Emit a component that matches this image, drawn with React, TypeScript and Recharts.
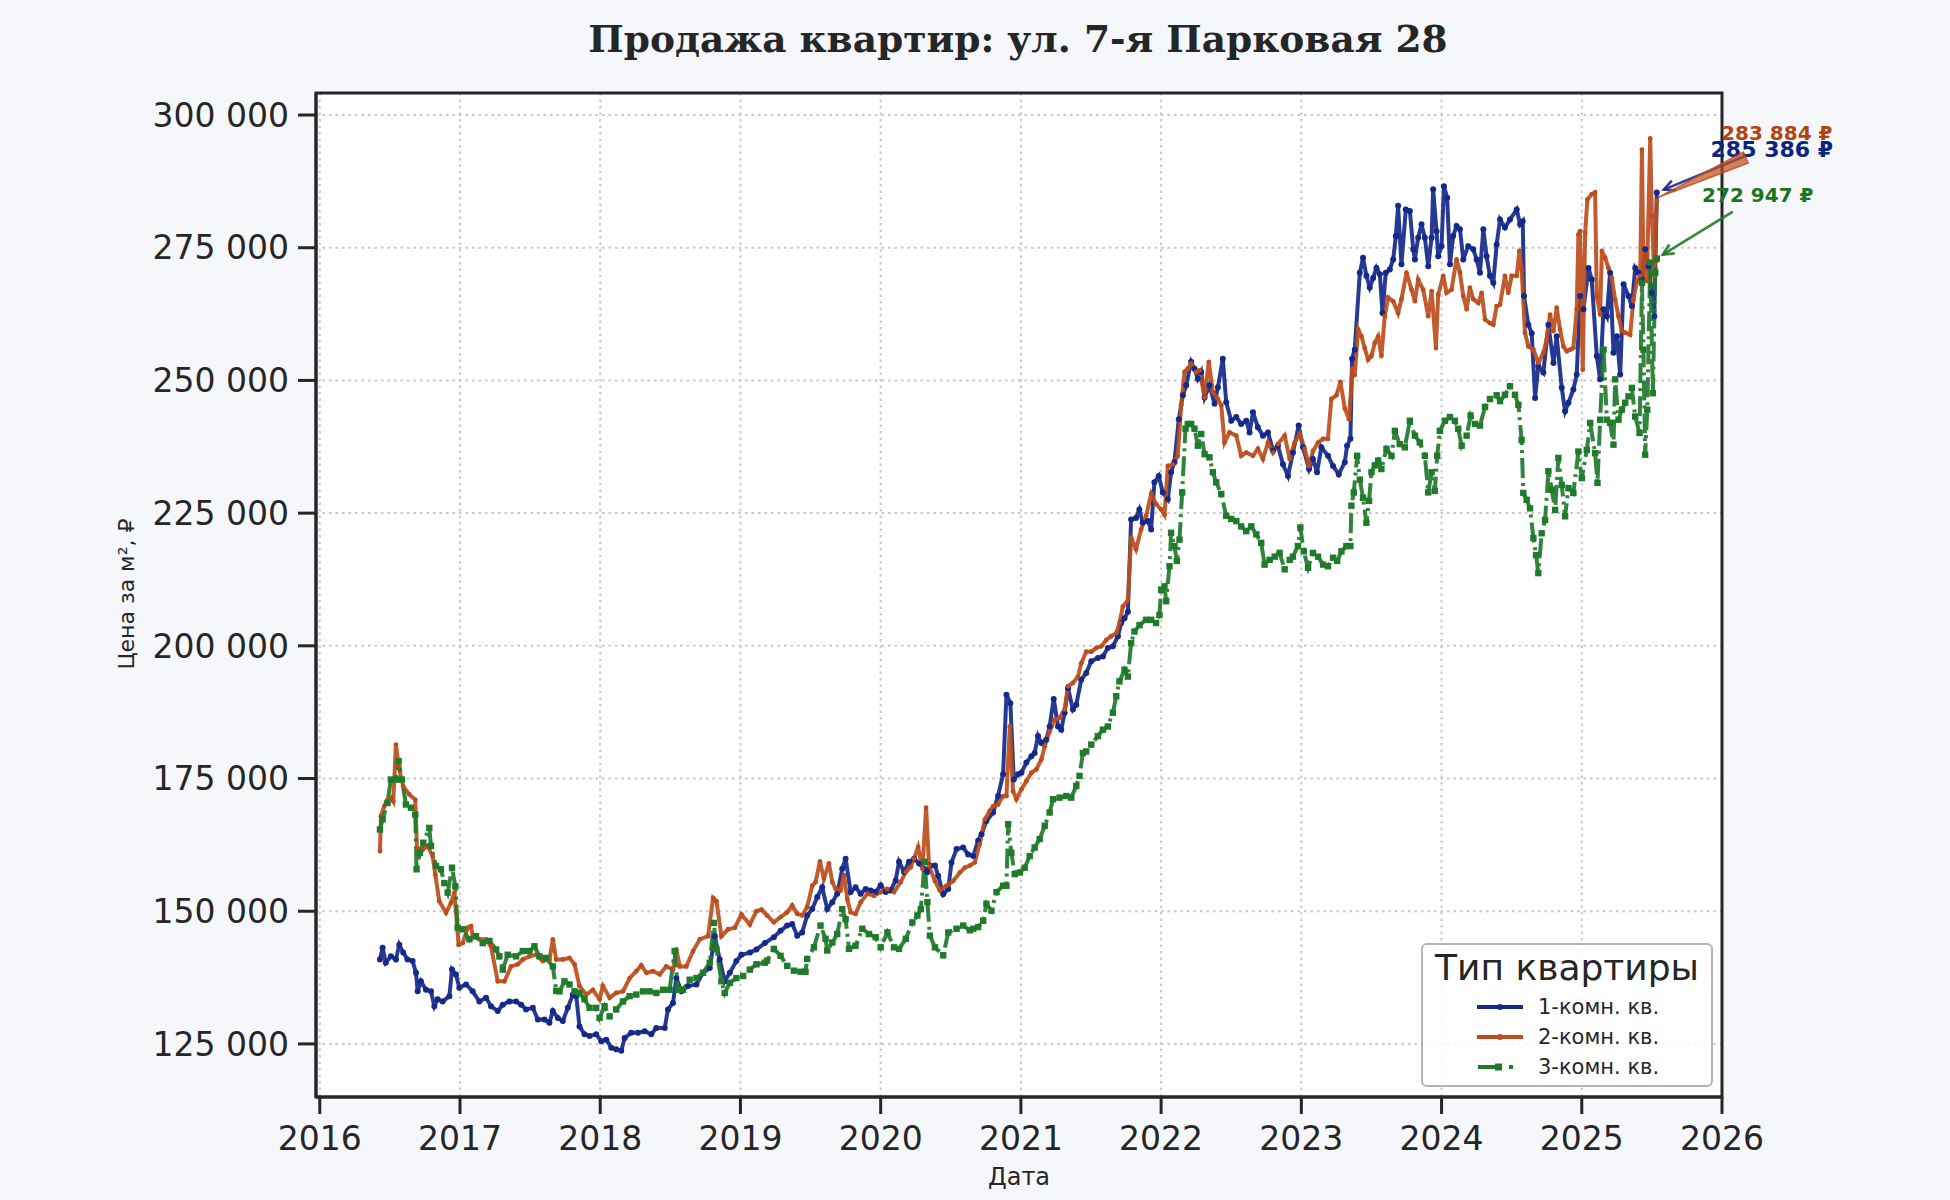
import React from "react";
import {
  LineChart,
  Line,
  XAxis,
  YAxis,
  CartesianGrid,
  ReferenceArea,
  ReferenceDot,
  Legend,
} from "recharts";

const INK = "#262626";
const FONT = "'DejaVu Sans', sans-serif";

const yearTicks = [2016, 2017, 2018, 2019, 2020, 2021, 2022, 2023, 2024, 2025, 2026];
const priceTicks = [125000, 150000, 175000, 200000, 225000, 250000, 275000, 300000];

// 1-комн. кв. — decimal year / price per m²
const oneRoomDates = [
  2016.429, 2016.448, 2016.471, 2016.507, 2016.543, 2016.567, 2016.595, 2016.626, 2016.662, 2016.686,
  2016.698, 2016.721, 2016.757, 2016.793, 2016.817, 2016.84, 2016.876, 2016.924, 2016.943, 2016.971,
  2016.995, 2017.043, 2017.09, 2017.138, 2017.186, 2017.221, 2017.269, 2017.305, 2017.352, 2017.4,
  2017.436, 2017.471, 2017.519, 2017.555, 2017.602, 2017.638, 2017.662, 2017.698, 2017.733, 2017.769,
  2017.805, 2017.829, 2017.852, 2017.888, 2017.924, 2017.971, 2018.007, 2018.043, 2018.079, 2018.114,
  2018.15, 2018.174, 2018.221, 2018.269, 2018.317, 2018.364, 2018.4, 2018.46, 2018.483, 2018.519,
  2018.543, 2018.579, 2018.626, 2018.686, 2018.733, 2018.781, 2018.817, 2018.852, 2018.888, 2018.924,
  2018.971, 2019.007, 2019.067, 2019.114, 2019.174, 2019.238, 2019.286, 2019.333, 2019.369, 2019.405,
  2019.44, 2019.476, 2019.512, 2019.548, 2019.583, 2019.619, 2019.655, 2019.69, 2019.726, 2019.75,
  2019.786, 2019.821, 2019.857, 2019.893, 2019.929, 2019.964, 2020.0, 2020.036, 2020.071, 2020.107,
  2020.131, 2020.167, 2020.202, 2020.238, 2020.274, 2020.31, 2020.333, 2020.351, 2020.387, 2020.41,
  2020.446, 2020.482, 2020.505, 2020.541, 2020.588, 2020.624, 2020.66, 2020.695, 2020.719, 2020.754,
  2020.802, 2020.837, 2020.873, 2020.897, 2020.925, 2020.949, 2020.98, 2021.004, 2021.039, 2021.075,
  2021.098, 2021.122, 2021.146, 2021.181, 2021.205, 2021.234, 2021.265, 2021.288, 2021.312, 2021.336,
  2021.371, 2021.395, 2021.43, 2021.466, 2021.502, 2021.549, 2021.585, 2021.62, 2021.656, 2021.692,
  2021.715, 2021.739, 2021.763, 2021.786, 2021.821, 2021.845, 2021.869, 2021.905, 2021.929, 2021.952,
  2021.983, 2022.012, 2022.048, 2022.071, 2022.095, 2022.126, 2022.155, 2022.179, 2022.214, 2022.238,
  2022.262, 2022.286, 2022.31, 2022.345, 2022.381, 2022.405, 2022.44, 2022.464, 2022.5, 2022.536,
  2022.571, 2022.607, 2022.631, 2022.655, 2022.69, 2022.726, 2022.762, 2022.798, 2022.833, 2022.869,
  2022.905, 2022.94, 2022.981, 2023.012, 2023.055, 2023.083, 2023.112, 2023.143, 2023.19, 2023.226,
  2023.267, 2023.31, 2023.326, 2023.35, 2023.362, 2023.381, 2023.417, 2023.44, 2023.464, 2023.488,
  2023.512, 2023.536, 2023.56, 2023.579, 2023.602, 2023.631, 2023.655, 2023.674, 2023.69, 2023.714,
  2023.745, 2023.774, 2023.798, 2023.81, 2023.833, 2023.857, 2023.881, 2023.905, 2023.929, 2023.94,
  2023.964, 2023.976, 2024.0, 2024.017, 2024.04, 2024.06, 2024.083, 2024.107, 2024.131, 2024.155,
  2024.19, 2024.226, 2024.25, 2024.274, 2024.298, 2024.321, 2024.345, 2024.369, 2024.393, 2024.417,
  2024.452, 2024.488, 2024.536, 2024.56, 2024.579, 2024.588, 2024.619, 2024.643, 2024.667, 2024.69,
  2024.726, 2024.762, 2024.798, 2024.821, 2024.857, 2024.881, 2024.905, 2024.94, 2024.964, 2024.988,
  2025.012, 2025.048, 2025.071, 2025.107, 2025.131, 2025.155, 2025.179, 2025.202, 2025.226, 2025.25,
  2025.274, 2025.298, 2025.333, 2025.357, 2025.381, 2025.405, 2025.429, 2025.452, 2025.476, 2025.5,
  2025.517, 2025.535,
];
const oneRoomPrices = [
  140900, 143100, 140300, 141500, 140900, 143700, 142200, 140900, 140600, 138400,
  134900, 136800, 135200, 134900, 132100, 133400, 133000, 134000, 139000, 138100,
  135600, 136200, 134900, 133000, 133700, 132100, 131200, 132400, 133000, 133000,
  132400, 131500, 131800, 129600, 129600, 129000, 131200, 129900, 129300, 131800,
  134300, 134000, 128300, 126800, 126500, 126800, 125500, 125800, 124300, 124000,
  123700, 126100, 127100, 127100, 127400, 126800, 128000, 128000, 131500, 132700,
  137400, 134900, 135900, 136200, 138400, 139300, 145300, 140900, 136800, 138400,
  140600, 141800, 142200, 142800, 144000, 145100, 146300, 147300, 147600, 145400,
  146000, 149200, 150400, 152700, 154500, 150400, 151700, 153300, 158000, 159900,
  153600, 154500, 153300, 154200, 153900, 153600, 154900, 153600, 153900, 155800,
  159300, 157400, 159300, 159900, 159000, 158000, 157400, 158600, 158600, 156700,
  153200, 154200, 159200, 161700, 162000, 160700, 160400, 163300, 164500, 167000,
  168600, 171700, 175800, 190800, 189200, 174800, 175800, 176100, 178000, 179200,
  179800, 183000, 181700, 182300, 184800, 190000, 184800, 184200, 187400, 192000,
  188000, 188900, 193600, 194900, 197100, 197700, 198000, 199600, 199900, 201800,
  204300, 205200, 206400, 223800, 224100, 225700, 223200, 223500, 221900, 230800,
  232000, 228900, 227600, 232700, 234600, 242700, 247200, 249100, 253500, 252200,
  250300, 251600, 246800, 249100, 245600, 248700, 254100, 245900, 242400, 243100,
  241800, 242400, 240200, 244000, 241200, 239600, 240200, 236800, 237700, 234200,
  232000, 236400, 241500, 237400, 233300, 235200, 232700, 237400, 235800, 233900,
  232300, 234600, 237700, 239000, 254100, 255800, 270300, 273100, 269700, 267500,
  269300, 271200, 270000, 262700, 270300, 270900, 272800, 277200, 282900, 271900,
  282200, 281900, 274700, 272800, 276900, 279400, 276900, 271500, 276900, 286000,
  278100, 273400, 275300, 286600, 284400, 271900, 277200, 279100, 278500, 272800,
  275300, 274700, 272800, 270300, 278500, 273400, 269700, 268400, 275600, 280300,
  278800, 280300, 282200, 279400, 280000, 265900, 260500, 258900, 246700, 252700,
  251500, 260500, 253300, 258300, 248600, 244200, 245800, 248300, 251100, 265900,
  263400, 271200, 269000, 254600, 250200, 263400, 262100, 270300, 255200, 258300,
  251100, 268100, 265900, 264000, 271200, 270300, 269000, 274700, 271500, 266500,
  262100, 285386,
];

// 2-комн. кв.
const twoRoomDates = [
  2016.429, 2016.436, 2016.46, 2016.483, 2016.507, 2016.524, 2016.543, 2016.562, 2016.595, 2016.638,
  2016.681, 2016.693, 2016.733, 2016.769, 2016.805, 2016.824, 2016.852, 2016.9, 2016.936, 2016.96,
  2016.99, 2017.019, 2017.055, 2017.079, 2017.09, 2017.138, 2017.186, 2017.221, 2017.269, 2017.317,
  2017.364, 2017.412, 2017.448, 2017.495, 2017.543, 2017.59, 2017.638, 2017.662, 2017.686, 2017.733,
  2017.781, 2017.817, 2017.852, 2017.9, 2017.948, 2017.995, 2018.019, 2018.067, 2018.114, 2018.162,
  2018.21, 2018.257, 2018.293, 2018.329, 2018.376, 2018.424, 2018.471, 2018.519, 2018.543, 2018.567,
  2018.614, 2018.662, 2018.71, 2018.769, 2018.805, 2018.829, 2018.864, 2018.912, 2018.96, 2019.007,
  2019.067, 2019.114, 2019.15, 2019.19, 2019.238, 2019.286, 2019.333, 2019.369, 2019.405, 2019.44,
  2019.476, 2019.512, 2019.536, 2019.567, 2019.595, 2019.631, 2019.655, 2019.679, 2019.714, 2019.738,
  2019.762, 2019.786, 2019.821, 2019.857, 2019.905, 2019.952, 2020.0, 2020.048, 2020.095, 2020.143,
  2020.179, 2020.214, 2020.238, 2020.267, 2020.298, 2020.324, 2020.345, 2020.387, 2020.422, 2020.47,
  2020.517, 2020.565, 2020.6, 2020.636, 2020.671, 2020.707, 2020.743, 2020.778, 2020.802, 2020.837,
  2020.873, 2020.897, 2020.921, 2020.944, 2020.968, 2021.004, 2021.039, 2021.075, 2021.11, 2021.146,
  2021.17, 2021.205, 2021.241, 2021.276, 2021.312, 2021.336, 2021.371, 2021.407, 2021.43, 2021.466,
  2021.502, 2021.537, 2021.573, 2021.609, 2021.644, 2021.68, 2021.703, 2021.727, 2021.763, 2021.786,
  2021.821, 2021.857, 2021.893, 2021.929, 2021.964, 2022.0, 2022.024, 2022.048, 2022.083, 2022.119,
  2022.143, 2022.167, 2022.19, 2022.214, 2022.25, 2022.274, 2022.31, 2022.34, 2022.369, 2022.405,
  2022.429, 2022.452, 2022.488, 2022.536, 2022.571, 2022.607, 2022.655, 2022.69, 2022.726, 2022.762,
  2022.798, 2022.833, 2022.881, 2022.917, 2022.952, 2022.988, 2023.024, 2023.055, 2023.083, 2023.119,
  2023.155, 2023.19, 2023.214, 2023.25, 2023.279, 2023.31, 2023.34, 2023.364, 2023.381, 2023.405,
  2023.429, 2023.452, 2023.476, 2023.5, 2023.524, 2023.548, 2023.571, 2023.595, 2023.619, 2023.655,
  2023.69, 2023.714, 2023.75, 2023.786, 2023.81, 2023.833, 2023.869, 2023.905, 2023.929, 2023.96,
  2023.976, 2024.012, 2024.036, 2024.071, 2024.107, 2024.131, 2024.155, 2024.179, 2024.202, 2024.226,
  2024.262, 2024.286, 2024.31, 2024.345, 2024.369, 2024.393, 2024.417, 2024.452, 2024.476, 2024.5,
  2024.536, 2024.555, 2024.571, 2024.595, 2024.619, 2024.655, 2024.69, 2024.726, 2024.75, 2024.774,
  2024.798, 2024.821, 2024.845, 2024.869, 2024.893, 2024.917, 2024.94, 2024.964, 2024.976, 2024.988,
  2025.007, 2025.024, 2025.04, 2025.071, 2025.095, 2025.107, 2025.131, 2025.143, 2025.167, 2025.19,
  2025.214, 2025.238, 2025.262, 2025.286, 2025.31, 2025.345, 2025.369, 2025.393, 2025.417, 2025.429,
  2025.44, 2025.464, 2025.488, 2025.5, 2025.517, 2025.535,
];
const twoRoomPrices = [
  161300, 167900, 169800, 171000, 171400, 170700, 181400, 177300, 173500, 172000,
  171000, 161900, 161600, 162300, 160400, 156900, 151900, 149700, 151600, 153500,
  143700, 144000, 146900, 147200, 145300, 144700, 144700, 143400, 136800, 136800,
  139600, 140000, 140900, 141500, 141800, 140600, 140900, 144700, 140900, 140900,
  141200, 140000, 135900, 134300, 135200, 133400, 135900, 133700, 134600, 134900,
  137400, 138700, 139800, 138400, 138700, 138100, 139600, 139000, 142800, 139600,
  139600, 142500, 144700, 145300, 152500, 151900, 145300, 146600, 146900, 149400,
  147500, 150000, 150300, 149200, 147900, 148900, 149800, 151100, 149500, 149200,
  150800, 154800, 155500, 159400, 156100, 159000, 155500, 154200, 153900, 156800,
  152300, 149800, 149500, 151700, 153300, 152900, 153600, 154200, 153600, 155500,
  157400, 158300, 159900, 162100, 158000, 169500, 158600, 155700, 153900, 154800,
  155700, 157300, 158200, 158600, 159200, 162700, 167300, 168900, 169800, 170100,
  171700, 171700, 184800, 172600, 171100, 173000, 174500, 176100, 176700, 178600,
  181100, 183900, 186100, 186400, 188000, 192400, 193000, 194200, 196700, 198900,
  198900, 199600, 199900, 201100, 201800, 202400, 204300, 207400, 208600, 220400,
  218200, 221900, 224500, 228600, 226700, 225700, 224700, 233900, 234200, 235800,
  245300, 251600, 252200, 253200, 251600, 251900, 246800, 253500, 247800, 246500,
  245300, 238300, 240200, 239600, 235800, 236400, 235800, 237100, 235200, 238300,
  236400, 238000, 239600, 235200, 238300, 239900, 237100, 233900, 236700, 238300,
  239000, 239000, 246500, 247200, 249700, 244700, 242700, 252200, 251000, 259600,
  258300, 256100, 253900, 254600, 257100, 258300, 254600, 262100, 265600, 264900,
  262700, 265300, 270300, 267100, 264900, 269000, 267100, 262100, 266800, 256100,
  266200, 269700, 266500, 267100, 272800, 270300, 265900, 263400, 267500, 265300,
  264600, 266500, 261500, 260800, 260500, 264000, 264300, 269700, 266500, 269700,
  269700, 274400, 270900, 259000, 256400, 255800, 253300, 255200, 257700, 262400,
  259300, 263700, 259600, 256400, 255500, 255800, 256100, 263400, 277500, 278100,
  252000, 277800, 284100, 285100, 285400, 265900, 262400, 274400, 273100, 271200,
  269300, 265200, 262100, 259300, 259000, 258600, 265300, 268700, 269700, 293500,
  270900, 268700, 295600, 281000, 269700, 283884,
];

// 3-комн. кв.
const threeRoomDates = [
  2016.429, 2016.448, 2016.483, 2016.507, 2016.543, 2016.562, 2016.586, 2016.614, 2016.65, 2016.681,
  2016.69, 2016.714, 2016.738, 2016.781, 2016.793, 2016.829, 2016.864, 2016.888, 2016.912, 2016.943,
  2016.967, 2016.983, 2017.019, 2017.067, 2017.114, 2017.162, 2017.21, 2017.257, 2017.281, 2017.305,
  2017.34, 2017.4, 2017.448, 2017.495, 2017.531, 2017.567, 2017.614, 2017.662, 2017.686, 2017.71,
  2017.745, 2017.781, 2017.817, 2017.852, 2017.888, 2017.924, 2017.971, 2017.995, 2018.031, 2018.067,
  2018.114, 2018.162, 2018.21, 2018.257, 2018.305, 2018.352, 2018.4, 2018.448, 2018.495, 2018.531,
  2018.555, 2018.59, 2018.638, 2018.686, 2018.733, 2018.781, 2018.81, 2018.829, 2018.864, 2018.888,
  2018.924, 2018.971, 2019.019, 2019.067, 2019.114, 2019.174, 2019.19, 2019.238, 2019.286, 2019.333,
  2019.381, 2019.429, 2019.464, 2019.476, 2019.524, 2019.571, 2019.607, 2019.619, 2019.655, 2019.69,
  2019.726, 2019.75, 2019.774, 2019.821, 2019.869, 2019.917, 2019.964, 2020.0, 2020.048, 2020.095,
  2020.131, 2020.179, 2020.226, 2020.262, 2020.286, 2020.314, 2020.333, 2020.351, 2020.387, 2020.446,
  2020.482, 2020.541, 2020.588, 2020.636, 2020.66, 2020.695, 2020.731, 2020.754, 2020.79, 2020.826,
  2020.873, 2020.897, 2020.909, 2020.932, 2020.956, 2020.992, 2021.027, 2021.063, 2021.098, 2021.134,
  2021.17, 2021.205, 2021.229, 2021.276, 2021.324, 2021.359, 2021.395, 2021.418, 2021.442, 2021.466,
  2021.502, 2021.549, 2021.585, 2021.62, 2021.656, 2021.68, 2021.703, 2021.739, 2021.763, 2021.786,
  2021.81, 2021.846, 2021.893, 2021.929, 2021.964, 2021.988, 2022.0, 2022.024, 2022.036, 2022.06,
  2022.071, 2022.095, 2022.112, 2022.131, 2022.15, 2022.174, 2022.19, 2022.214, 2022.238, 2022.262,
  2022.286, 2022.31, 2022.345, 2022.369, 2022.393, 2022.429, 2022.464, 2022.5, 2022.536, 2022.571,
  2022.607, 2022.643, 2022.679, 2022.714, 2022.738, 2022.774, 2022.81, 2022.845, 2022.881, 2022.917,
  2022.94, 2022.976, 2022.993, 2023.017, 2023.048, 2023.083, 2023.119, 2023.155, 2023.19, 2023.226,
  2023.255, 2023.286, 2023.321, 2023.35, 2023.357, 2023.374, 2023.398, 2023.417, 2023.44, 2023.464,
  2023.483, 2023.5, 2023.524, 2023.548, 2023.571, 2023.607, 2023.643, 2023.667, 2023.702, 2023.738,
  2023.774, 2023.81, 2023.845, 2023.881, 2023.905, 2023.929, 2023.952, 2023.969, 2023.988, 2024.024,
  2024.06, 2024.095, 2024.119, 2024.143, 2024.179, 2024.207, 2024.238, 2024.274, 2024.31, 2024.345,
  2024.393, 2024.417, 2024.452, 2024.488, 2024.524, 2024.548, 2024.571, 2024.583, 2024.607, 2024.631,
  2024.655, 2024.674, 2024.69, 2024.714, 2024.738, 2024.762, 2024.786, 2024.81, 2024.833, 2024.857,
  2024.881, 2024.905, 2024.94, 2024.976, 2025.0, 2025.036, 2025.06, 2025.095, 2025.112, 2025.131,
  2025.155, 2025.179, 2025.202, 2025.226, 2025.238, 2025.262, 2025.286, 2025.31, 2025.333, 2025.357,
  2025.381, 2025.412, 2025.429, 2025.44, 2025.452, 2025.467, 2025.488, 2025.507, 2025.524, 2025.535,
];
const threeRoomPrices = [
  165400, 167300, 170400, 174800, 174800, 178300, 174800, 170100, 169500, 168200,
  157900, 161000, 162900, 165700, 162300, 158500, 157900, 155300, 153500, 158200,
  154700, 146900, 146600, 144700, 145300, 144000, 144400, 142800, 141500, 139000,
  141800, 141500, 142500, 142500, 143400, 141500, 141200, 139600, 135000, 134900,
  136800, 136200, 134900, 134600, 133400, 131800, 131800, 129900, 132100, 130200,
  131500, 133000, 134000, 134300, 134900, 134900, 134600, 135200, 135200, 142500,
  135200, 135200, 137100, 137400, 138400, 140300, 147800, 142800, 136800, 134600,
  136500, 137400, 137800, 139000, 140000, 140300, 140700, 142900, 141600, 139700,
  138800, 138600, 138600, 141000, 143200, 147300, 144800, 142600, 144100, 145700,
  150400, 148500, 142900, 143500, 146700, 145700, 145100, 143200, 146000, 143200,
  142900, 144800, 147900, 149200, 150400, 159300, 151700, 145400, 143200, 141700,
  146000, 146700, 147300, 146400, 146700, 147000, 148200, 151400, 150100, 153600,
  154800, 154800, 166400, 161000, 157000, 157300, 158200, 160400, 162000, 163600,
  166100, 168600, 171100, 171400, 171700, 171400, 173600, 175500, 179800, 180100,
  181400, 183000, 184200, 184800, 187400, 190500, 193300, 195500, 194200, 200500,
  202700, 203900, 204900, 204900, 204300, 205800, 210600, 211200, 208400, 215000,
  221300, 218800, 216000, 220000, 228900, 240900, 241800, 241800, 240900, 237700,
  239900, 236100, 235500, 232700, 230800, 228600, 224500, 223900, 223500, 222500,
  221600, 222500, 221000, 219400, 215300, 216200, 216800, 217500, 214400, 216200,
  216800, 218800, 222300, 217800, 214700, 217500, 216800, 215300, 215000, 216600,
  216000, 217800, 218800, 218800, 226400, 228900, 235800, 231300, 227900, 223200,
  227300, 232700, 234000, 234900, 233300, 237100, 235800, 240500, 238000, 237400,
  242400, 239600, 238300, 235800, 228900, 232700, 229200, 235800, 240500, 242400,
  243100, 242400, 240900, 237700, 239600, 243400, 241800, 241500, 245000, 246500,
  247200, 246100, 247300, 248900, 247300, 245400, 238800, 228800, 227500, 225900,
  220300, 217100, 213700, 221200, 223700, 232900, 229400, 225600, 235400, 230300,
  224400, 229700, 228800, 236600, 231600, 236900, 242000, 236300, 230700, 242600,
  255800, 242600, 242000, 237900, 250200, 242600, 244500, 245800, 247000, 248600,
  243200, 240100, 268400, 255800, 236000, 244500, 272200, 247600, 270300, 272947,
];

const toRows = (dates: number[], prices: number[]) => dates.map((t, i) => ({ t, v: prices[i] }));

const fmt = (v: number) => String(Math.round(v)).replace(/\B(?=(\d{3})+(?!\d))/g, " ");

type Marker = "dot" | "square";

const SERIES = [
  {
    id: "one",
    name: "1-комн. кв.",
    color: "#15298a",
    textColor: "#0c2480",
    dates: oneRoomDates,
    prices: oneRoomPrices,
    marker: "dot" as Marker,
    dash: undefined as string | undefined,
    legendDash: undefined as string | undefined,
    r: 3,
    callout: { tx: 115, ty: -43, sx: 92, sy: -38, ex: 7, ey: -3, size: 22, wedge: false },
  },
  {
    id: "two",
    name: "2-комн. кв.",
    color: "#bd4d1c",
    textColor: "#b5430f",
    dates: twoRoomDates,
    prices: twoRoomPrices,
    marker: "dot" as Marker,
    dash: undefined as string | undefined,
    legendDash: undefined as string | undefined,
    r: 2.4,
    callout: { tx: 120, ty: -68, sx: 89, sy: -43, ex: 1, ey: -3, size: 20, wedge: true },
  },
  {
    id: "three",
    name: "3-комн. кв.",
    color: "#1f7a2a",
    textColor: "#1a751c",
    dates: threeRoomDates,
    prices: threeRoomPrices,
    marker: "square" as Marker,
    dash: "20 5 3 5",
    legendDash: "22 9 4 9",
    r: 3.2,
    callout: { tx: 101, ty: -64, sx: 76, sy: -47, ex: 6, ey: -4, size: 20, wedge: false },
  },
];

function Callout({ cx, cy, s }: { cx: number; cy: number; s: (typeof SERIES)[number] }) {
  const c = s.callout;
  const x1 = cx + c.sx, y1 = cy + c.sy, x2 = cx + c.ex, y2 = cy + c.ey;
  const ang = Math.atan2(y2 - y1, x2 - x1);
  const head = 12;
  const spread = 0.45;
  const hx1 = x2 - head * Math.cos(ang - spread), hy1 = y2 - head * Math.sin(ang - spread);
  const hx2 = x2 - head * Math.cos(ang + spread), hy2 = y2 - head * Math.sin(ang + spread);
  const last = s.prices[s.prices.length - 1];
  let arrow;
  if (c.wedge) {
    const nx = -Math.sin(ang) * 6, ny = Math.cos(ang) * 6;
    arrow = (
      <polygon
        points={`${x1 + nx},${y1 + ny} ${x1 - nx},${y1 - ny} ${x2},${y2}`}
        fill={s.color}
        fillOpacity={0.7}
        stroke={s.color}
        strokeOpacity={0.8}
        strokeWidth={1.5}
      />
    );
  } else {
    arrow = (
      <g stroke={s.color} strokeWidth={2.6} fill="none" strokeOpacity={0.9}>
        <line x1={x1} y1={y1} x2={x2} y2={y2} />
        <polyline points={`${hx1},${hy1} ${x2},${y2} ${hx2},${hy2}`} />
      </g>
    );
  }
  return (
    <g>
      {arrow}
      <text
        x={cx + c.tx}
        y={cy + c.ty}
        textAnchor="middle"
        dominantBaseline="central"
        fontFamily={FONT}
        fontWeight="bold"
        fontSize={c.size}
        fill={s.textColor}
      >
        {fmt(last)} ₽
      </text>
    </g>
  );
}

function LegendIcon({ s }: { s: (typeof SERIES)[number] }) {
  return (
    <svg width={46} height={14} style={{ position: "absolute", left: 54, top: -7 }}>
      <line
        x1={1}
        y1={7}
        x2={45}
        y2={7}
        stroke={s.color}
        strokeWidth={4}
        strokeLinecap={s.legendDash ? "butt" : "round"}
        strokeDasharray={s.legendDash}
      />
      {s.marker === "square" ? (
        <rect x={18} y={3.5} width={7} height={7} fill={s.color} />
      ) : (
        <circle cx={23} cy={7} r={3} fill={s.color} />
      )}
    </svg>
  );
}

function LegendBox() {
  return (
    <div
      style={{
        position: "relative",
        width: 292,
        height: 144,
        boxSizing: "border-box",
        border: "2.5px solid #b4b4b4",
        borderRadius: 6,
        background: "rgba(255,255,255,0.85)",
        fontFamily: FONT,
        color: INK,
      }}
    >
      <div
        style={{
          position: "absolute",
          left: 0,
          right: 0,
          top: 2,
          textAlign: "center",
          fontSize: 36,
          lineHeight: "42px",
        }}
      >
        Тип квартиры
      </div>
      {SERIES.map((s, i) => (
        <div key={s.id} style={{ position: "absolute", left: 0, top: 62 + i * 30, width: "100%" }}>
          <LegendIcon s={s} />
          <span
            style={{
              position: "absolute",
              left: 115,
              top: -13,
              fontSize: 21,
              lineHeight: "26px",
              whiteSpace: "nowrap",
            }}
          >
            {s.name}
          </span>
        </div>
      ))}
    </div>
  );
}

const X_MIN = 2015.973;
const X_MAX = 2026;
const Y_MIN = 115000;
const Y_MAX = 304150;

export default function App() {
  return (
    <div
      style={{
        position: "fixed",
        left: 0,
        top: 0,
        width: 1950,
        height: 1200,
        background: "#f5f7fa",
        fontFamily: FONT,
      }}
    >
      <div
        style={{
          position: "absolute",
          left: 1018,
          top: 39,
          transform: "translate(-50%, -50%)",
          fontFamily: "'DejaVu Serif', serif",
          fontWeight: "bold",
          fontSize: 37.5,
          color: INK,
          whiteSpace: "nowrap",
        }}
      >
        Продажа квартир: ул. 7-я Парковая 28
      </div>
      <div
        style={{
          position: "absolute",
          left: 126,
          top: 594,
          transform: "translate(-50%, -50%) rotate(-90deg)",
          fontSize: 22,
          color: INK,
          whiteSpace: "nowrap",
        }}
      >
        Цена за м², ₽
      </div>
      <div
        style={{
          position: "absolute",
          left: 1019,
          top: 1177,
          transform: "translate(-50%, -50%)",
          fontSize: 24,
          color: INK,
          whiteSpace: "nowrap",
        }}
      >
        Дата
      </div>
      <LineChart width={1950} height={1200} margin={{ top: 93, right: 228, bottom: 33, left: 96 }}>
        <CartesianGrid
          stroke="#c8c8c8"
          strokeDasharray="2.5 4"
          strokeWidth={2}
          fill="#ffffff"
          fillOpacity={1}
        />
        <XAxis
          dataKey="t"
          type="number"
          domain={[X_MIN, X_MAX]}
          ticks={yearTicks}
          allowDataOverflow
          height={70}
          tickSize={17}
          tickMargin={13}
          tickFormatter={(v: number) => String(v)}
          tick={{ fill: INK, fontSize: 33, fontFamily: FONT }}
          tickLine={{ stroke: INK, strokeWidth: 3 }}
          axisLine={{ stroke: INK, strokeWidth: 3 }}
        />
        <YAxis
          dataKey="v"
          type="number"
          domain={[Y_MIN, Y_MAX]}
          ticks={priceTicks}
          allowDataOverflow
          width={220}
          tickSize={18}
          tickMargin={9}
          tickFormatter={fmt}
          tick={{ fill: INK, fontSize: 33, fontFamily: FONT }}
          tickLine={{ stroke: INK, strokeWidth: 3 }}
          axisLine={{ stroke: INK, strokeWidth: 3 }}
        />
        {SERIES.map((s) => (
          <Line
            key={s.id}
            data={toRows(s.dates, s.prices)}
            dataKey="v"
            name={s.name}
            type="linear"
            stroke={s.color}
            strokeWidth={4}
            strokeOpacity={0.92}
            strokeDasharray={s.dash}
            isAnimationActive={false}
            dot={
              s.marker === "square"
                ? (p: any) => (
                    <rect
                      key={`sq-${p.index}`}
                      x={p.cx - s.r}
                      y={p.cy - s.r}
                      width={s.r * 2}
                      height={s.r * 2}
                      fill={s.color}
                    />
                  )
                : { r: s.r, fill: s.color, stroke: "none", strokeWidth: 0 }
            }
            activeDot={false}
          />
        ))}
        <ReferenceArea
          x1={X_MIN}
          x2={X_MAX}
          y1={Y_MIN}
          y2={Y_MAX}
          fill="none"
          stroke={INK}
          strokeWidth={3}
          ifOverflow="visible"
        />
        {SERIES.map((s) => (
          <ReferenceDot
            key={`c-${s.id}`}
            x={s.dates[s.dates.length - 1]}
            y={s.prices[s.prices.length - 1]}
            r={0}
            ifOverflow="visible"
            shape={(p: any) => <Callout cx={p.cx} cy={p.cy} s={s} />}
          />
        ))}
        <Legend
          layout="horizontal"
          verticalAlign="middle"
          align="center"
          wrapperStyle={{ position: "absolute", left: 1421, top: 943, width: 292, height: 144 }}
          content={() => <LegendBox />}
        />
      </LineChart>
    </div>
  );
}
